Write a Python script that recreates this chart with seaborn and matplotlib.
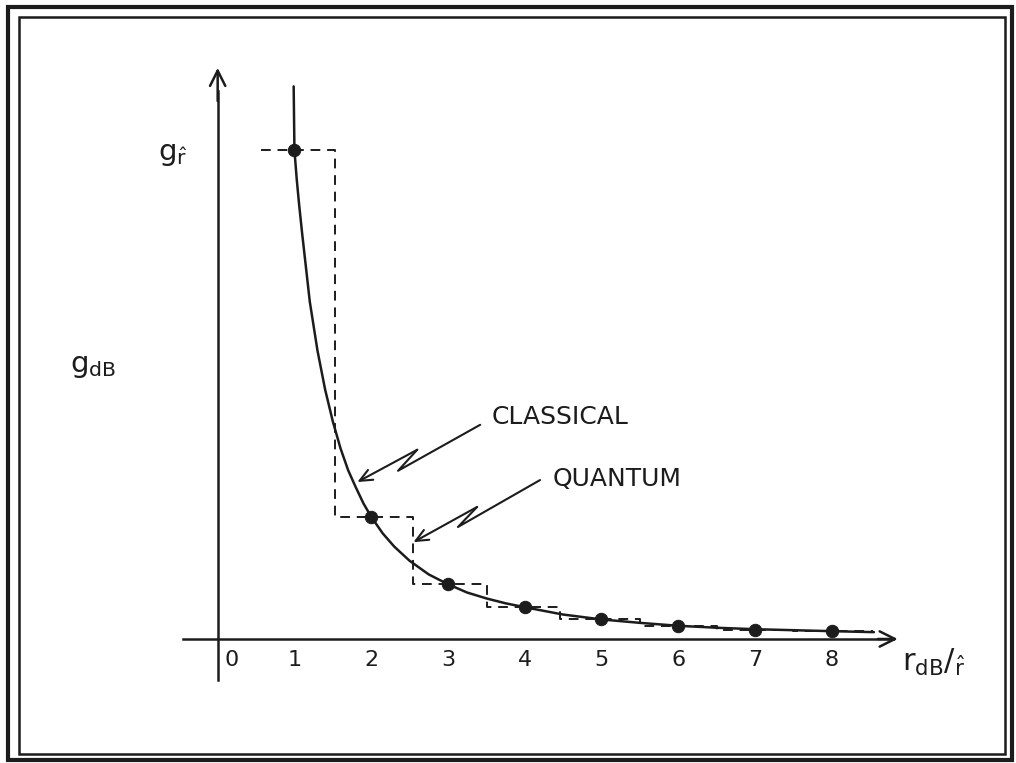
import matplotlib
matplotlib.use("Agg")
import matplotlib.pyplot as plt
from matplotlib.patches import Rectangle
from matplotlib.transforms import ScaledTranslation
import seaborn as sns
import pandas as pd

# values (g in units of g_r-hat)
r_ticks = [0, 1, 2, 3, 4, 5, 6, 7, 8]
r_points = [1, 2, 3, 4, 5, 6, 7, 8]
g_points = [1.0, 0.25, 0.112, 0.065, 0.040, 0.027, 0.019, 0.016]

classical_r = [0.99, 1.0, 1.03, 1.06, 1.1, 1.15, 1.2, 1.25, 1.3, 1.4, 1.5, 1.6,
               1.7, 1.8, 1.9, 2.0, 2.15, 2.3, 2.5, 2.75, 3.0, 3.25, 3.5, 3.75,
               4.0, 4.5, 5.0, 5.5, 6.0, 6.5, 7.0, 7.5, 8.0, 8.55]
classical_g = [1.13, 1.0, 0.94, 0.89, 0.83, 0.76, 0.69, 0.64, 0.59, 0.51, 0.445, 0.39,
               0.345, 0.31, 0.277, 0.25, 0.216, 0.189, 0.16, 0.132, 0.112, 0.095, 0.083, 0.073,
               0.065, 0.05, 0.04, 0.033, 0.027, 0.023, 0.02, 0.018, 0.016, 0.014]

quantum_edges = [0.57, 1.535, 2.54, 3.51, 4.46, 5.5, 6.5, 7.5, 8.54]
quantum_levels = [1.0, 0.25, 0.112, 0.065, 0.040, 0.027, 0.019, 0.016, 0.016]

# zig-zag pointers: start, knee, knee, tip
classical_ptr_r = [3.42, 2.35, 2.60, 1.82]
classical_ptr_g = [0.438, 0.344, 0.387, 0.321]
quantum_ptr_r = [4.20, 3.13, 3.38, 2.55]
quantum_ptr_g = [0.325, 0.229, 0.270, 0.198]

ink = "#1c1c1c"

sns.set_style("white")
plt.rcParams["font.family"] = ["DejaVu Sans"]
plt.rcParams["mathtext.fontset"] = "dejavusans"
plt.rcParams["mathtext.default"] = "regular"

fig = plt.figure(figsize=(10.16, 7.63), dpi=100, facecolor="white")
ax = fig.add_axes([0, 0, 1, 1])
ax.set_facecolor("none")

curve = pd.DataFrame({"r": classical_r, "g": classical_g})
steps = pd.DataFrame({"r": quantum_edges, "g": quantum_levels})
dots = pd.DataFrame({"r": r_points, "g": g_points})

sns.lineplot(data=curve, x="r", y="g", sort=False, estimator=None, color=ink, lw=1.8,
             solid_joinstyle="round", ax=ax)
sns.lineplot(data=steps, x="r", y="g", sort=False, estimator=None, color=ink, lw=1.4,
             drawstyle="steps-post", dashes=False, linestyle=(0, (5, 3.5)), ax=ax)
sns.scatterplot(data=dots, x="r", y="g", color=ink, s=80, edgecolor=ink, zorder=5, ax=ax)

# axes through the origin, with open arrow heads
ax.set_xlim(-2.836, 10.401)
ax.set_ylim(-0.2536, 1.3067)
for side in ["top", "right"]:
    ax.spines[side].set_visible(False)
ax.spines["bottom"].set_position(("data", 0))
ax.spines["left"].set_position(("data", 0))
ax.spines["bottom"].set_bounds(-0.45, 8.8)
ax.spines["left"].set_bounds(-0.084, 1.12)
for side in ["bottom", "left"]:
    ax.spines[side].set_color(ink)
    ax.spines[side].set_linewidth(1.8)

arrow = dict(arrowstyle="->,head_length=1.1,head_width=0.55", lw=1.8, color=ink,
             shrinkA=0, shrinkB=0)
ax.annotate("", xy=(8.86, 0), xytext=(8.6, 0), arrowprops=arrow)
ax.annotate("", xy=(0, 1.168), xytext=(0, 1.1), arrowprops=arrow)

ax.set_xticks(r_ticks)
ax.set_xticklabels([str(t) for t in r_ticks])
ax.tick_params(axis="x", direction="inout", length=8, width=1.5, color=ink,
               labelsize=16, labelcolor=ink, pad=4)
lab0 = ax.get_xticklabels()[0]
lab0.set_horizontalalignment("left")
lab0.set_transform(lab0.get_transform() + ScaledTranslation(5 / 72, 0, fig.dpi_scale_trans))

ax.set_yticks([1.0])
ax.set_yticklabels([r"$g_{\hat{r}}$"])
ax.tick_params(axis="y", direction="inout", length=12, width=1.5, color=ink,
               labelsize=21, labelcolor=ink, pad=16)

ax.set_xlabel(r"$r_{dB}/_{\hat{r}}$", fontsize=22, color=ink, ha="left", va="top")
ax.xaxis.set_label_coords(0.888, 0.152)
ax.set_ylabel(r"$g_{dB}$", fontsize=21, color=ink, rotation=0, ha="left", va="center")
ax.yaxis.set_label_coords(0.069, 0.52)

# annotations with lightning-style pointers
ax.text(3.57, 0.454, "CLASSICAL", fontsize=18, color=ink, va="center", ha="left")
ax.text(4.36, 0.327, "QUANTUM", fontsize=18, color=ink, va="center", ha="left")
for pr, pg in [(classical_ptr_r, classical_ptr_g), (quantum_ptr_r, quantum_ptr_g)]:
    ax.plot(pr[:3], pg[:3], color=ink, lw=1.5)
    ax.annotate("", xy=(pr[3], pg[3]), xytext=(pr[2], pg[2]),
                arrowprops=dict(arrowstyle="->,head_length=0.9,head_width=0.4",
                                lw=1.5, color=ink, shrinkA=0, shrinkB=0))

# double frame around the plate
W, H = 1016, 763
fig.patches.append(Rectangle((8 / W, 1 - 760 / H), 1004 / W, 753 / H, fill=False,
                             lw=3, edgecolor=ink, transform=fig.transFigure))
fig.patches.append(Rectangle((19 / W, 1 - 754 / H), 986 / W, 737 / H, fill=False,
                             lw=1.8, edgecolor=ink, transform=fig.transFigure))

fig.savefig("out.png", dpi=100, facecolor="white")
